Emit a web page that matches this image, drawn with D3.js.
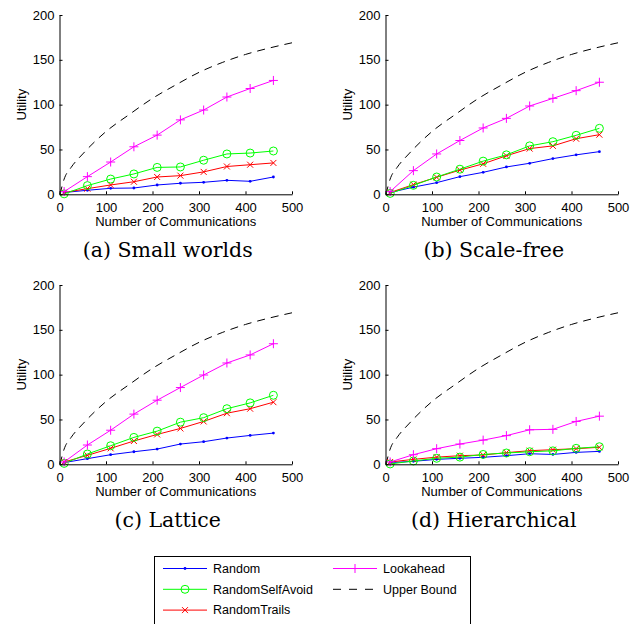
<!DOCTYPE html>
<html>
<head>
<meta charset="utf-8">
<script src="https://cdn.jsdelivr.net/npm/d3@7"></script>
<style>
  body { margin: 0; background: #fff; }
  svg text { font-family: "Liberation Sans", Arial, sans-serif; }
  svg text.caption { font-family: "DejaVu Serif", "Liberation Serif", serif; }
</style>
</head>
<body>
<div id="chart"></div>
<script>
// number of communications at which each method was sampled
var commX = [10, 60, 110, 160, 210, 260, 310, 360, 410, 460];

// upper bound curve
var boundX = [1, 10, 25, 50, 100, 150, 200, 250, 300, 350, 400, 450, 500];
var boundY = [0, 17, 30, 45, 70, 89, 107, 122, 136, 147, 156, 163, 169];

// (a) small worlds
var randomA    = [2, 4.5, 6.7, 7, 10.4, 12.3, 13.4, 15.6, 14.5, 19.3];
var selfAvoidA = [0.5, 9.7, 17, 22.7, 30, 30.5, 38, 45, 46, 48.3];
var trailsA    = [2, 6.3, 10.4, 14, 19.3, 20.8, 25, 31, 33, 35];
var lookA      = [3, 19.7, 36, 53, 66, 83, 94, 108.5, 118, 127];

// (b) scale-free
var randomB    = [2, 8, 13, 19.7, 24.5, 30.5, 34.6, 39.8, 44, 47.6];
var selfAvoidB = [1, 10, 19.3, 28, 37, 44, 54, 58.7, 65.8, 73.6];
var trailsB    = [2, 10.8, 19, 27, 34, 43, 51, 54, 62, 66.5];
var lookB      = [3, 26.4, 45, 60, 74, 84.7, 98.5, 107, 115.6, 125];

// (c) lattice
var randomC    = [1.9, 6.3, 10.7, 14, 17, 22.6, 25.2, 29.3, 32.2, 34.8];
var selfAvoidC = [1, 11.5, 20.7, 30, 37, 47, 52, 62, 68.5, 77];
var trailsC    = [2.6, 10, 17.8, 26, 33.3, 40, 47.8, 57, 62, 69.3];
var lookC      = [2.6, 21.5, 38, 56, 71.5, 85.6, 99.6, 113, 122, 134.5];

// (d) hierarchical
var randomD    = [1.9, 3.3, 5.5, 6.7, 7.8, 9.6, 11.8, 11, 13.3, 14.4];
var selfAvoidD = [0.4, 3.7, 6.7, 8, 11, 12.6, 14, 15, 17.8, 19.6];
var trailsD    = [2.6, 5.5, 8, 9.6, 10.4, 13, 15.2, 16.3, 17.4, 19];
var lookD      = [2.6, 10.7, 17.4, 22.6, 27, 32, 38.5, 39, 47.8, 53.7];

var xTicks = [0, 100, 200, 300, 400, 500];
var yTicks = [0, 50, 100, 150, 200];
var methodNames = ["Random", "RandomSelfAvoid", "RandomTrails", "Lookahead"];
var methodColors = ["#0000ff", "#00ff00", "#ff0000", "#ff00ff"];
var methodMarkers = ["dot", "circle", "x", "plus"];

var panels = [
  {caption: "(a) Small worlds", left: 59.5, top: 15, series: [randomA, selfAvoidA, trailsA, lookA]},
  {caption: "(b) Scale-free", left: 385.5, top: 15, series: [randomB, selfAvoidB, trailsB, lookB]},
  {caption: "(c) Lattice", left: 59.5, top: 285, series: [randomC, selfAvoidC, trailsC, lookC]},
  {caption: "(d) Hierarchical", left: 385.5, top: 285, series: [randomD, selfAvoidD, trailsD, lookD]}
];
var plotW = 232.5, plotH = 179.3;

var svg = d3.select('#chart').append('svg')
  .attr('width', 643)
  .attr('height', 624);

var drawMarker = function(g, kind, color, cx, cy){
  if (kind == "dot") {
    g.append('circle').attr('cx', cx).attr('cy', cy).attr('r', 1.4).attr('fill', color);
  } else if (kind == "circle") {
    g.append('circle').attr('cx', cx).attr('cy', cy).attr('r', 4)
      .attr('fill', 'none').attr('stroke', color).attr('stroke-width', 1);
  } else if (kind == "x") {
    var s = 3;
    g.append('path')
      .attr('d', 'M' + (cx - s) + ',' + (cy - s) + 'L' + (cx + s) + ',' + (cy + s) +
                 'M' + (cx - s) + ',' + (cy + s) + 'L' + (cx + s) + ',' + (cy - s))
      .attr('stroke', color).attr('stroke-width', 1);
  } else {
    var p = 4.5;
    g.append('path')
      .attr('d', 'M' + (cx - p) + ',' + cy + 'L' + (cx + p) + ',' + cy +
                 'M' + cx + ',' + (cy - p) + 'L' + cx + ',' + (cy + p))
      .attr('stroke', color).attr('stroke-width', 1);
  }
};

panels.forEach(function(panel){
  var x = d3.scaleLinear().domain([0, 500]).range([panel.left, panel.left + plotW]);
  var y = d3.scaleLinear().domain([0, 200]).range([panel.top + plotH, panel.top]);
  var g = svg.append('g');

  // upper bound
  var boundLine = d3.line().curve(d3.curveMonotoneX)
    .x(function(d){ return x(d[0]); })
    .y(function(d){ return y(d[1]); });
  g.append('path')
    .datum(boundX.map(function(v, i){ return [v, boundY[i]]; }))
    .attr('d', boundLine)
    .attr('fill', 'none')
    .attr('stroke', '#000')
    .attr('stroke-width', 1)
    .attr('stroke-dasharray', '8,6');

  var line = d3.line()
    .x(function(d, i){ return x(commX[i]); })
    .y(function(d){ return y(d); });

  // draw in order so lookahead sits on top, random at bottom
  [0, 2, 1, 3].forEach(function(k){
    var vals = panel.series[k];
    g.append('path')
      .datum(vals)
      .attr('d', line)
      .attr('fill', 'none')
      .attr('stroke', methodColors[k])
      .attr('stroke-width', 1);
    vals.forEach(function(v, i){
      drawMarker(g, methodMarkers[k], methodColors[k], x(commX[i]), y(v));
    });
  });

  var yAxis = g.append('g')
    .attr('transform', 'translate(' + panel.left + ',0)')
    .call(d3.axisLeft(y).tickValues(yTicks).tickSize(-3).tickSizeOuter(0).tickPadding(5));
  var xAxis = g.append('g')
    .attr('transform', 'translate(0,' + (panel.top + plotH) + ')')
    .call(d3.axisBottom(x).tickValues(xTicks).tickSize(-3).tickSizeOuter(0).tickPadding(8));
  [yAxis, xAxis].forEach(function(a){
    a.selectAll('text').attr('font-size', 13).attr('font-family', '"Liberation Sans", Arial, sans-serif').attr('fill', '#000');
    a.selectAll('line').attr('stroke', '#000');
    a.select('.domain').attr('stroke', '#000');
  });

  g.append('text')
    .attr('transform', 'translate(' + (panel.left - 38) + ',' + (panel.top + plotH / 2) + ') rotate(-90)')
    .attr('text-anchor', 'middle')
    .attr('dy', '0.35em')
    .attr('font-size', 13)
    .text('Utility');

  g.append('text')
    .attr('x', panel.left + plotW / 2)
    .attr('y', panel.top + plotH + 27)
    .attr('text-anchor', 'middle')
    .attr('dy', '0.35em')
    .attr('font-size', 13)
    .text('Number of Communications');

  g.append('text')
    .attr('class', 'caption')
    .attr('x', panel.left + plotW / 2 - 8)
    .attr('y', panel.top + plotH + 56)
    .attr('text-anchor', 'middle')
    .attr('dy', '0.35em')
    .attr('font-size', 20.5)
    .text(panel.caption);
});

// legend
var legend = svg.append('g');
legend.append('rect')
  .attr('x', 154.5).attr('y', 556.5)
  .attr('width', 316).attr('height', 80)
  .attr('fill', '#fff').attr('stroke', '#000').attr('stroke-width', 1);

var legendItems = [
  {name: methodNames[0], color: methodColors[0], marker: methodMarkers[0], col: 0, row: 0},
  {name: methodNames[1], color: methodColors[1], marker: methodMarkers[1], col: 0, row: 1},
  {name: methodNames[2], color: methodColors[2], marker: methodMarkers[2], col: 0, row: 2},
  {name: methodNames[3], color: methodColors[3], marker: methodMarkers[3], col: 1, row: 0},
  {name: "Upper Bound", color: "#000", marker: null, col: 1, row: 1}
];
legendItems.forEach(function(item){
  var lx = item.col == 0 ? 163 : 333;
  var ly = 568.5 + item.row * 20.8;
  var ln = legend.append('line')
    .attr('x1', lx).attr('x2', lx + 44)
    .attr('y1', ly).attr('y2', ly)
    .attr('stroke', item.color).attr('stroke-width', 1);
  if (item.marker) {
    drawMarker(legend, item.marker, item.color, lx + 22, ly);
  } else {
    ln.attr('stroke-dasharray', '8,8');
  }
  legend.append('text')
    .attr('x', lx + 50)
    .attr('y', ly)
    .attr('dy', '0.35em')
    .attr('font-size', 12.5)
    .text(item.name);
});
</script>
</body>
</html>
